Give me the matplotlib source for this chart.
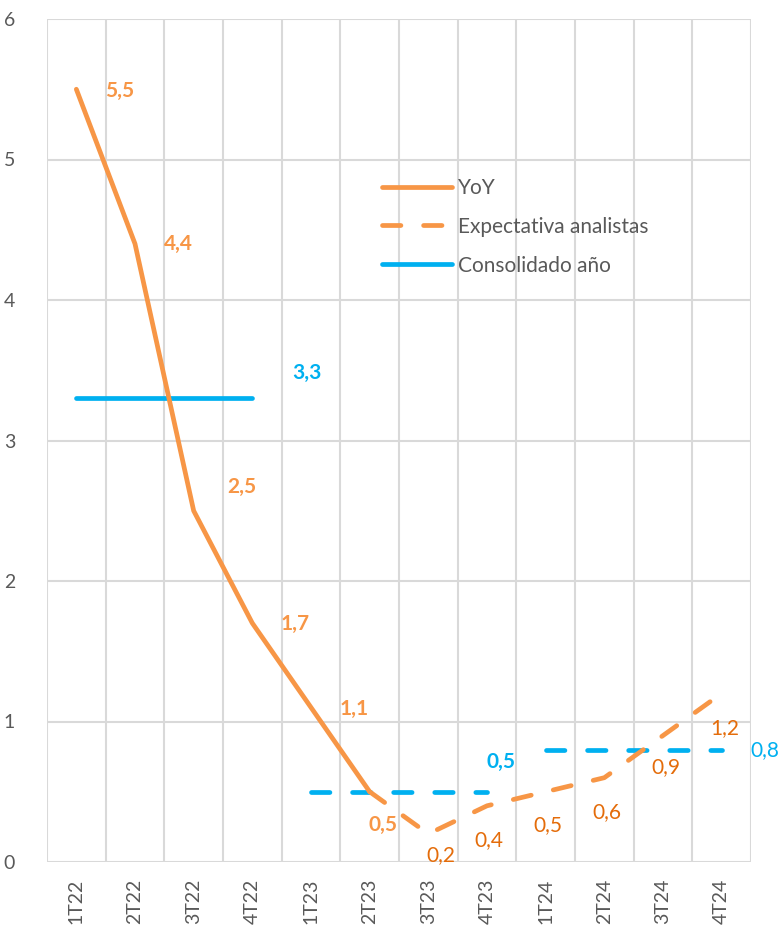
import matplotlib
matplotlib.use("Agg")
import matplotlib.pyplot as plt
import numpy as np

plt.rcParams['font.family'] = ['Lato', 'DejaVu Sans']

categories = ["1T22", "2T22", "3T22", "4T22", "1T23", "2T23",
              "3T23", "4T23", "1T24", "2T24", "3T24", "4T24"]
yoy = [5.5, 4.4, 2.5, 1.7, 1.1, 0.5, None, None, None, None, None, None]
expectativa = [None, None, None, None, None, 0.5, 0.2, 0.4, 0.5, 0.6, 0.9, 1.2]
consolidado_2022 = [3.3, 3.3, 3.3, 3.3, None, None, None, None, None, None, None, None]
consolidado_2023 = [None, None, None, None, 0.5, 0.5, 0.5, 0.5, None, None, None, None]
consolidado_2024 = [None, None, None, None, None, None, None, None, 0.8, 0.8, 0.8, 0.8]

def arr(v):
    return np.array([np.nan if a is None else a for a in v], dtype=float)

ORANGE = "#F79646"
DORANGE = "#E46C0A"
BLUE = "#00B0F0"
GRID = "#D9D9D9"
TXT = "#595959"

fig = plt.figure(figsize=(7.81, 9.27), dpi=100)
ax = fig.add_axes([47/781, 1-862/927, (751-47)/781, (862-19)/927])

x = np.arange(len(categories))
lw = 3.4
dash = (0, (3.9, 4.8))

l1, = ax.plot(x, arr(yoy), color=ORANGE, lw=lw, solid_capstyle='round',
              solid_joinstyle='round', label="YoY", zorder=3)
l2, = ax.plot(x, arr(expectativa), color=ORANGE, lw=lw, linestyle=dash,
              dash_capstyle='round', dash_joinstyle='round',
              label="Expectativa analistas", zorder=3)
l3, = ax.plot(x, arr(consolidado_2022), color=BLUE, lw=lw, solid_capstyle='round',
              label="Consolidado año", zorder=2)
ax.plot(x, arr(consolidado_2023), color=BLUE, lw=lw, linestyle=dash,
        dash_capstyle='round', zorder=2)
ax.plot(x, arr(consolidado_2024), color=BLUE, lw=lw, linestyle=dash,
        dash_capstyle='round', zorder=2)

ax.set_xlim(-0.5, len(categories) - 0.5)
ax.set_ylim(0, 6)
ax.set_yticks(range(0, 7))
ax.set_xticks(x)
ax.set_xticklabels(categories, rotation=90)
ax.set_xticks(np.arange(-0.5, len(categories), 1.0), minor=True)
ax.tick_params(axis='both', which='both', length=0, colors=TXT, labelsize=14)
ax.tick_params(axis='x', which='major', pad=12)
ax.tick_params(axis='y', which='major', pad=23)
ax.grid(True, which='minor', axis='x', color=GRID, lw=1.5)
ax.grid(True, which='major', axis='y', color=GRID, lw=1.5)
ax.set_axisbelow(True)
for s in ax.spines.values():
    s.set_visible(False)

def fmt(v):
    return ("%.1f" % v).replace(".", ",")

def lab(i, v, dx, dy, color, bold):
    ax.annotate(fmt(v), xy=(i, v), xytext=(dx, dy), textcoords='offset pixels',
                ha='center', va='center', color=color, fontsize=15,
                fontweight='bold' if bold else 'normal', zorder=5)

# YoY labels
yoy_off = [(43, -2), (43, 0), (48, 24), (43, -1), (43, -2), (13, -33)]
for i, (v, o) in enumerate(zip(yoy, yoy_off)):
    lab(i, v, o[0], o[1], ORANGE, True)

# Expectativa labels (skip shared first point)
exp_off = {6: (13, -21), 7: (2, -34), 8: (2, -33), 9: (3, -34), 10: (3, -32), 11: (3, -35)}
for i, o in exp_off.items():
    lab(i, expectativa[i], o[0], o[1], DORANGE, False)

# Consolidado labels
lab(3, consolidado_2022[3], 55, 25, BLUE, True)
lab(7, consolidado_2023[7], 14, 30, BLUE, True)
lab(11, consolidado_2024[11], 43, 0, BLUE, False)

leg = ax.legend(handles=[l1, l2, l3], loc='upper left',
                bbox_to_anchor=(382/781, 1-178/927), bbox_transform=fig.transFigure,
                frameon=False, fontsize=15, handlelength=3.37, handletextpad=0.3,
                labelspacing=0.9, borderpad=0, borderaxespad=0)
for t in leg.get_texts():
    t.set_color(TXT)

fig.savefig("out.png", dpi=100)
